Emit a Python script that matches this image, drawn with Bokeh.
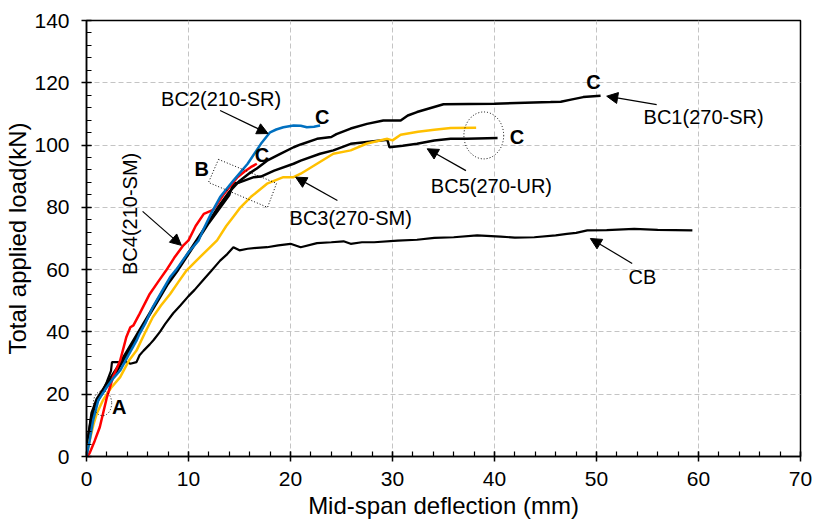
import math
from bokeh.plotting import figure
from bokeh.models import Range1d, FixedTicker, Arrow, NormalHead
from bokeh.core.properties import value
from bokeh.embed import file_html
from bokeh.resources import INLINE

# ---------------- data (mm, kN) ----------------
cb_x = [0, 0.2, 0.5, 1, 1.5, 2, 2.4, 2.5, 4.0, 4.3, 4.9, 5.2, 5.6, 6.2, 6.6, 7.2, 7.7, 8.5, 9.2, 10,
        10.6, 11.4, 12.2, 13.1, 13.8, 14.4, 15, 15.8, 16.7, 17.7, 18.8, 20, 21, 22.6, 24, 25.2,
        25.9, 27, 28.2, 30.5, 32.4, 34.1, 36, 38.3, 40.6, 42, 43.9, 46, 47.1, 48, 49.1, 51, 53.7, 56, 59.4]
cb_y = [0, 6, 12, 17, 20.5, 24, 27.5, 30.3, 30.3, 29.8, 30.3, 32.5, 34, 36, 37.5, 40, 42.5, 46, 48.5, 51.5,
        53.5, 56.5, 59.5, 62.9, 65, 67.2, 66.2, 66.7, 67, 67.2, 67.8, 68.3, 67.2, 68.5, 68.8, 69.1,
        68.3, 68.8, 68.8, 69.3, 69.6, 70.2, 70.4, 71, 70.6, 70.3, 70.4, 71, 71.5, 71.8, 72.6, 72.7, 73.1, 72.8, 72.6]

bc1_x = [0, 0.15, 0.5, 1, 2, 3, 4, 5, 6, 7, 8, 9, 10, 11, 12, 13, 14, 15, 16, 16.7, 17.7, 19, 20.3,
         21, 22.6, 24.0, 24.5, 25.9, 27.5, 29.1, 30.8, 31.5, 32.4, 35, 40, 45.5, 46.5, 47.5, 48.7, 50.4]
bc1_y = [0, 6, 14, 18.5, 23.5, 28.5, 34, 39.5, 45, 50.5, 56, 60.5, 65.5, 70.5, 75.5, 80.5, 85, 88.5, 91,
         92.5, 95, 97.2, 99.3, 100.2, 102, 102.6, 103.5, 105.3, 106.8, 107.9, 107.9, 109.5, 110.6,
         113.1, 113.3, 113.8, 113.9, 114.6, 115.4, 115.8]

bc2_x = [0, 0.3, 0.65, 1.15, 2, 2.6, 3.3, 4.1, 4.9, 5.2, 5.8, 6.5, 7.3, 8.2, 8.8, 10, 11, 11.4, 12.2,
         13.1, 14.4, 15.8, 17.1, 18.0, 18.6, 19.3, 20.3, 21, 21.6, 22.3, 22.9]
bc2_y = [0, 5, 11.6, 18, 22.3, 25, 27.6, 32.5, 37.2, 39.4, 43, 48, 52.5, 57.6, 60, 65.6, 69.4, 72.5, 77.9,
         83.3, 88.6, 94, 100.4, 104.1, 105, 105.7, 106.3, 106.2, 105.7, 105.9, 106.3]

bc3_x = [0, 0.3, 0.7, 1, 1.6, 2.4, 3.3, 4.2, 4.9, 5.7, 6.5, 7.3, 8.2, 9.0, 9.8, 10.8, 11.8, 12.8, 13.7,
         14.4, 15.1, 16.1, 17.7, 19.3, 20.3, 21, 21.6, 22.6, 24.2, 25.9, 27.5, 29.5, 30, 30.8, 32.5,
         34.1, 35.7, 38.2]
bc3_y = [0, 5, 10.5, 13.7, 18, 22, 25.5, 31, 34, 39.5, 44.7, 48.5, 52.2, 56, 59.7, 63, 66.2, 69.4, 74,
         77, 80, 83.3, 87.6, 89.7, 89.7, 90.8, 92, 94, 97.2, 98.3, 100.5, 102, 101.5, 103.3, 104.3,
         104.9, 105.5, 105.6]

bc4_x = [0, 0.3, 0.8, 1.3, 2.0, 2.6, 3.3, 3.9, 4.3, 4.6, 5.2, 6.2, 7.0, 7.8, 8.6, 9.5, 10.0, 10.7,
         11.5, 12.3, 12.5, 13.5, 14.8, 15.5, 16.1, 16.7]
bc4_y = [0, 1, 5, 9.4, 19, 25.5, 30.8, 38.3, 41.5, 42.1, 45.8, 52.2, 56, 59.7, 63.8, 67.8, 69.4, 74,
         77.9, 79, 79.5, 84.4, 89.7, 91.5, 92.9, 94]

bc5_x = [0, 0.15, 0.5, 1, 2, 3, 4, 5, 6, 7, 8, 9, 10, 11, 12, 13, 14, 14.4, 15, 16.4, 17.1, 18.4,
         20.3, 21, 22.9, 24.2, 25.9, 27.5, 29.5, 29.7, 31, 32.4, 34.1, 35.7, 37.3, 40.3]
bc5_y = [0, 6, 13, 17.5, 22.5, 27.5, 33, 38.5, 44.5, 50, 55.5, 60, 65, 70, 75, 79.5, 84, 87.6, 88,
         89.7, 89.9, 91.8, 94, 95, 97.2, 98.3, 100.4, 101, 101.7, 99.3, 99.8, 100.4, 101.5, 102, 102, 102.3]

x_ticks = [0, 10, 20, 30, 40, 50, 60, 70]
y_ticks = [0, 20, 40, 60, 80, 100, 120, 140]

# annotation texts
label_text = ["BC2(210-SR)", "BC3(270-SM)", "BC5(270-UR)", "BC1(270-SR)", "CB"]
label_x = [13.2, 25.9, 39.7, 60.5, 54.5]
label_y = [114.7, 76.7, 87.0, 108.9, 57.5]
rot_text = ["BC4(210-SM)"]
rot_x = [4.3]
rot_y = [77.9]
bold_text = ["C", "C", "C", "C", "B", "A"]
bold_x = [23.1, 17.2, 42.2, 49.7, 11.3, 3.2]
bold_y = [109.0, 96.7, 102.5, 120.2, 92.4, 15.8]
arrow_x0 = [13.1, 5.5, 24.6, 37.2, 55.9, 53.5]
arrow_y0 = [111.1, 78.7, 82.2, 91.8, 113.0, 62.0]
arrow_x1 = [17.8, 9.3, 20.5, 33.4, 51.0, 49.4]
arrow_y1 = [103.7, 67.8, 89.7, 98.8, 115.7, 70.0]
ell_x = [38.95, 1.57]
ell_y = [103.1, 17.1]
ell_w = [3.9, 1.8]
ell_h = [15.1, 8.0]
box_x = [12.94, 18.63, 17.75, 11.96]
box_y = [95.4, 87.7, 80.0, 88.0]

FONT = "Liberation Sans"

p = figure(frame_width=714, frame_height=436, min_border_left=86, min_border_right=14,
           min_border_top=20, min_border_bottom=69,
           x_range=Range1d(0, 70), y_range=Range1d(0, 140),
           output_backend="svg", toolbar_location=None,
           x_axis_label="Mid-span deflection (mm)", y_axis_label="Total applied load(kN)")

p.background_fill_color = "white"
p.border_fill_color = "white"
p.outline_line_color = "black"
p.outline_line_width = 1.5

p.xaxis.ticker = FixedTicker(ticks=x_ticks, minor_ticks=[i * 2 for i in range(36)])
p.yaxis.ticker = FixedTicker(ticks=y_ticks, minor_ticks=[i * 4 for i in range(36)])

for ax in (p.xaxis[0], p.yaxis[0]):
    ax.axis_line_color = "black"
    ax.axis_line_width = 1.5
    ax.major_tick_line_color = "black"
    ax.major_tick_line_width = 1.5
    ax.minor_tick_line_color = "black"
    ax.minor_tick_line_width = 1.2
    ax.major_tick_in = 5
    ax.major_tick_out = 5
    ax.minor_tick_in = 5
    ax.minor_tick_out = 0
    ax.major_label_text_font = FONT
    ax.major_label_text_font_size = "21px"
    ax.major_label_text_color = "black"
    ax.axis_label_text_font = FONT
    ax.axis_label_text_font_size = "24px"
    ax.axis_label_text_font_style = "normal"
    ax.axis_label_text_color = "black"

p.xaxis.major_label_standoff = 10
p.xaxis.axis_label_standoff = 3
p.yaxis.major_label_standoff = 12
p.yaxis.axis_label_standoff = 0

p.grid.grid_line_color = "#c4c4c4"
p.grid.grid_line_dash = "5 3"
p.grid.grid_line_width = 1
p.xgrid.ticker = FixedTicker(ticks=x_ticks)
p.ygrid.ticker = FixedTicker(ticks=y_ticks)

# curves
p.line(cb_x, cb_y, line_color="black", line_width=2.2)
p.line(bc5_x, bc5_y, line_color="black", line_width=2.5)
p.line(bc1_x, bc1_y, line_color="black", line_width=2.5)
p.line(bc3_x, bc3_y, line_color="#ffc000", line_width=2.5)
p.line(bc4_x, bc4_y, line_color="#ff0000", line_width=2.5)
p.line(bc2_x, bc2_y, line_color="#0070c0", line_width=2.5)

# dotted highlights
p.ellipse(ell_x, ell_y, width=ell_w, height=ell_h, fill_color=None,
          line_color="black", line_dash="1 2", line_width=1)
p.patch(box_x, box_y, fill_color=None, line_color="black", line_dash="1 2", line_width=1)

# arrows
for x0, y0, x1, y1 in zip(arrow_x0, arrow_y0, arrow_x1, arrow_y1):
    p.add_layout(Arrow(end=NormalHead(size=11, fill_color="black", line_color="black"),
                       x_start=x0, y_start=y0, x_end=x1, y_end=y1,
                       line_color="black", line_width=1.2))

# texts
p.text(label_x, label_y, text=label_text, text_font=value(FONT), text_font_size="20px",
       text_align="center", text_baseline="middle", text_color="black")
p.text(rot_x, rot_y, text=rot_text, angle=math.pi / 2, text_font=value(FONT), text_font_size="20px",
       text_align="center", text_baseline="middle", text_color="black")
p.text(bold_x, bold_y, text=bold_text, text_font=value(FONT), text_font_size="20px",
       text_font_style="bold", text_align="center", text_baseline="middle", text_color="black")

open("out.html", "w").write(file_html(p, INLINE))
